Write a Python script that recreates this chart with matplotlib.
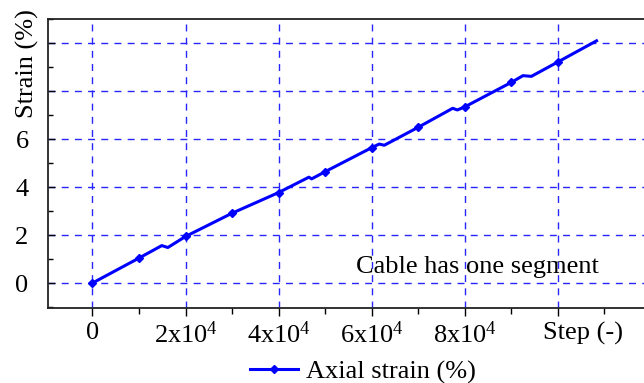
import matplotlib
matplotlib.use("Agg")
import matplotlib.pyplot as plt
from matplotlib.ticker import MultipleLocator, FixedLocator

plt.rcParams['font.family'] = ['Liberation Serif', 'DejaVu Serif']
plt.rcParams['mathtext.fontset'] = 'custom'
plt.rcParams['mathtext.rm'] = 'Liberation Serif'
plt.rcParams['mathtext.it'] = 'Liberation Serif:italic'

# ---- data ----
steps = [0, 10000, 14900, 16200, 20000, 30000, 40000, 46500, 47100, 50000,
         60000, 61600, 62700, 70000, 77400, 78400, 80000, 90000, 92500,
         94300, 100000, 108300]
strain = [0.0, 1.04, 1.56, 1.48, 1.94, 2.91, 3.77, 4.41, 4.34, 4.64,
          5.64, 5.79, 5.74, 6.49, 7.28, 7.21, 7.34, 8.36, 8.64,
          8.61, 9.21, 10.09]
series_label = "Axial strain (%)"

x_ticks = [0, 20000, 40000, 60000, 80000, 100000]
x_tick_labels = ["0", r"2x10$^{4}$", r"4x10$^{4}$", r"6x10$^{4}$", r"8x10$^{4}$", ""]
x_axis_name = "Step (-)"
y_ticks = [0, 2, 4, 6, 8, 10]
y_tick_labels = ["0", "2", "4", "6", "", ""]
y_axis_name = "Strain (%)"
annotation = "Cable has one segment"

W, H = 644, 383
fig = plt.figure(figsize=(W / 100, H / 100), dpi=100)
fig.patch.set_facecolor('white')
ax = fig.add_axes([48 / W, 1 - 308 / H, 1 - 48 / W, (308 - 19) / H])

blue = (0.0, 0.0, 1.0)
markidx = [i for i, s in enumerate(steps) if s % 10000 == 0]
ax.plot(steps, strain, color=blue, lw=2.2, marker='D', ms=3.8,
        markevery=markidx, label=series_label, solid_joinstyle='round')

ax.set_xlim(-9550, 118500)
ax.set_ylim(-1.04, 11.0)

ax.xaxis.set_major_locator(FixedLocator(x_ticks))
ax.set_xticklabels(x_tick_labels)
ax.xaxis.set_minor_locator(MultipleLocator(10000))
ax.yaxis.set_major_locator(FixedLocator(y_ticks))
ax.set_yticklabels(y_tick_labels)
ax.yaxis.set_minor_locator(MultipleLocator(1))

fs = 19
ax.tick_params(axis='x', which='major', direction='out', length=6, width=1.0,
               labelsize=fs, pad=4)
ax.tick_params(axis='x', which='minor', direction='out', length=4, width=1.0)
ax.tick_params(axis='y', which='major', direction='in', length=5, width=1.0,
               labelsize=fs, pad=14)
ax.tick_params(axis='y', which='minor', direction='in', length=3.5, width=1.0)

ax.grid(True, which='major', color=(0.15, 0.15, 1.0), lw=1.0,
        linestyle=(0, (5, 4.5)))

for s in ['left', 'bottom', 'top']:
    ax.spines[s].set_linewidth(1.3)
    ax.spines[s].set_color('#222222')
ax.spines['right'].set_visible(False)

# axis names
fig.text(27 / W, 1 - 64 / H, y_axis_name, rotation=90, ha='center',
         va='center', fontsize=fs)
ax.annotate(x_axis_name, xy=(96900, 0), xycoords=('data', 'axes fraction'),
            xytext=(0, -10), textcoords='offset points', ha='left', va='top',
            fontsize=fs)

ax.text(56600, 0.68, annotation, ha='left', va='center', fontsize=fs)

fig.legend(loc='center', bbox_to_anchor=(363 / W, 1 - 372 / H), frameon=False,
           fontsize=fs, handlelength=1.8, handletextpad=0.3, borderpad=0)

fig.savefig("out.png", dpi=100, facecolor='white')
